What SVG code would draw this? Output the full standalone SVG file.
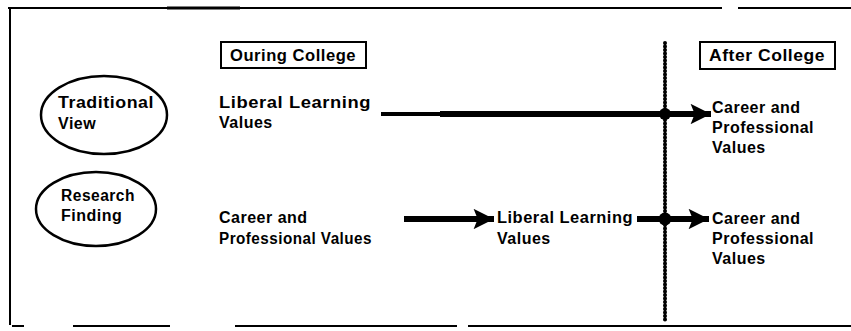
<svg xmlns="http://www.w3.org/2000/svg" width="851" height="331" viewBox="0 0 851 331">
<style>
text{font-family:"Liberation Sans",Arial,sans-serif;font-weight:bold;font-size:16px;letter-spacing:0.5px;fill:#000}
.frame{stroke:#000;stroke-width:2;fill:none}
.node{stroke:#000;stroke-width:2.5;fill:none}
.box{stroke:#000;stroke-width:2;fill:none}
.shaft{stroke:#000;fill:none}
.divider{stroke:#000;stroke-width:2.2}
.beads{stroke:#000;stroke-width:4;stroke-linecap:round;stroke-dasharray:0 3.5}
</style>
<defs>
<marker id="ah" viewBox="0 0 10 10" refX="10" refY="5" markerWidth="5.5" markerHeight="3.4" markerUnits="strokeWidth" orient="auto">
<path d="M0,0 L10,5 L0,10 L2,5 Z" fill="#000"/>
</marker>
</defs>
<g id="frame">
<path class="frame" d="M8,8 H722 M738,8 H851 M10,8 V325 M12,326 H24 M73,326 H170 M235,326 H457 M468,326 H851"/>
<path d="M167,8 H240" stroke="#000" stroke-width="3"/>
</g>
<g id="during-college">
<rect class="box" x="221" y="42" width="145" height="26"/>
<text x="230" y="61" textLength="126" lengthAdjust="spacingAndGlyphs">Ouring College</text>
</g>
<g id="after-college">
<rect class="box" x="700" y="42" width="135" height="27"/>
<text x="709" y="61" textLength="116" lengthAdjust="spacingAndGlyphs">After College</text>
</g>
<g id="divider">
<line class="divider" x1="665" y1="43" x2="665" y2="321"/>
<line class="beads" x1="665" y1="43" x2="665" y2="321"/>
</g>
<g id="traditional-view">
<ellipse class="node" cx="104" cy="115" rx="63" ry="39"/>
<text x="58" y="108" textLength="96" lengthAdjust="spacingAndGlyphs">Traditional</text>
<text x="58" y="129">View</text>
</g>
<g id="research-finding">
<ellipse class="node" cx="96" cy="209" rx="60" ry="37"/>
<text x="61" y="201" textLength="74" lengthAdjust="spacingAndGlyphs">Research</text>
<text x="61" y="221">Finding</text>
</g>
<g id="row1-liberal">
<text x="219" y="108" textLength="152" lengthAdjust="spacingAndGlyphs">Liberal Learning</text>
<text x="219" y="128">Values</text>
</g>
<g id="row1-career">
<text x="712" y="113">Career and</text>
<text x="712" y="133">Professional</text>
<text x="712" y="153">Values</text>
</g>
<g id="row2-career">
<text x="219" y="223">Career and</text>
<text x="219" y="244" textLength="153" lengthAdjust="spacingAndGlyphs">Professional Values</text>
</g>
<g id="row2-liberal">
<text x="497" y="223" textLength="136" lengthAdjust="spacingAndGlyphs">Liberal Learning</text>
<text x="497" y="244">Values</text>
</g>
<g id="row2-career-after">
<text x="712" y="224">Career and</text>
<text x="712" y="244">Professional</text>
<text x="712" y="264">Values</text>
</g>
<g id="connectors">
<path class="shaft" d="M381,114 H440" stroke-width="4"/>
<path class="shaft" d="M440,114 H711" stroke-width="6" marker-end="url(#ah)"/>
<circle cx="665" cy="114" r="6"/>
<path class="shaft" d="M404,219 H494" stroke-width="6" marker-end="url(#ah)"/>
<path class="shaft" d="M637,219 H709" stroke-width="6" marker-end="url(#ah)"/>
<circle cx="665" cy="219" r="6.5"/>
</g>
</svg>
